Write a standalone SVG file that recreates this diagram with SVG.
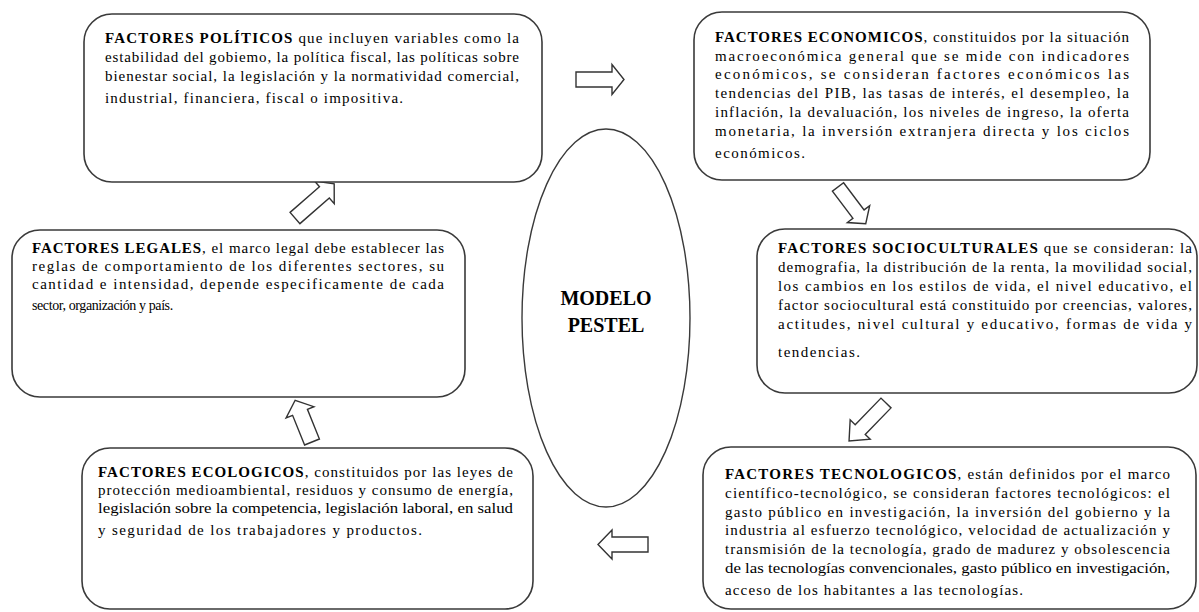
<svg xmlns="http://www.w3.org/2000/svg" width="1199" height="612" viewBox="0 0 1199 612">
<style>
.box{fill:#fff;stroke:#3a3a3a;stroke-width:1.6}
.ell{fill:#fff;stroke:#3a3a3a;stroke-width:1.4}
.t{font-family:"Liberation Serif","Times New Roman",serif;font-size:15px;fill:#000}
.b{font-weight:bold}
.title{font-family:"Liberation Serif","Times New Roman",serif;font-size:20px;font-weight:bold;fill:#000;text-anchor:middle}
.arr{fill:#fff;stroke:#333;stroke-width:1.4;stroke-linejoin:miter}
</style>
<rect width="1199" height="612" fill="#fff"/>

<g id="connectors">
<polygon class="arr" transform="translate(576,79.5)" points="0,-7.5 36,-7.5 36,-15 48,0 36,15 36,7.5 0,7.5"/>
<polygon class="arr" transform="translate(838,187) rotate(52.9)" points="0,-7 34,-7 34,-14 46,0 34,14 34,7 0,7"/>
<polygon class="arr" transform="translate(886,403) rotate(134.2)" points="0,-7 37,-7 37,-14 53,0 37,14 37,7 0,7"/>
<polygon class="arr" transform="translate(648,544.5) rotate(180)" points="0,-7.5 36,-7.5 36,-14.5 50,0 36,14.5 36,7.5 0,7.5"/>
<polygon class="arr" transform="translate(312,442) rotate(-112)" points="0,-8 32,-8 32,-15 45,0 32,15 32,8 0,8"/>
<polygon class="arr" transform="translate(295,218) rotate(-41.1)" points="0,-7.5 39,-7.5 39,-15 52,0 39,15 39,7.5 0,7.5"/>
</g>

<g id="politicos">
<rect class="box" x="84" y="14" width="458" height="168" rx="28"/>
<text class="t" x="105" y="43" textLength="414"><tspan class="b">FACTORES POLÍTICOS</tspan> que incluyen variables como la</text>
<text class="t" x="105" y="62" textLength="414">estabilidad del gobiemo, la política fiscal, las políticas sobre</text>
<text class="t" x="105" y="81" textLength="414">bienestar social, la legislación y la normatividad comercial,</text>
<text class="t" x="105" y="103" textLength="298">industrial, financiera, fiscal o impositiva.</text>
</g>

<g id="economicos">
<rect class="box" x="694" y="12" width="456" height="168" rx="28"/>
<text class="t" x="715" y="42" textLength="414"><tspan class="b">FACTORES ECONOMICOS</tspan>, constituidos por la situación</text>
<text class="t" x="715" y="61" textLength="414">macroeconómica general que se mide con indicadores</text>
<text class="t" x="715" y="79" textLength="414">económicos, se consideran factores económicos las</text>
<text class="t" x="715" y="98" textLength="414">tendencias del PIB, las tasas de interés, el desempleo, la</text>
<text class="t" x="715" y="117" textLength="414">inflación, la devaluación, los niveles de ingreso, la oferta</text>
<text class="t" x="715" y="136" textLength="414">monetaria, la inversión extranjera directa y los ciclos</text>
<text class="t" x="715" y="158" textLength="90">económicos.</text>
</g>

<g id="socioculturales">
<rect class="box" x="757" y="229" width="440" height="164" rx="28"/>
<text class="t" x="778" y="253" textLength="414"><tspan class="b">FACTORES SOCIOCULTURALES</tspan> que se consideran: la</text>
<text class="t" x="778" y="272" textLength="414">demografia, la distribución de la renta, la movilidad social,</text>
<text class="t" x="778" y="291" textLength="414">los cambios en los estilos de vida, el nivel educativo, el</text>
<text class="t" x="778" y="310" textLength="414">factor sociocultural está constituido por creencias, valores,</text>
<text class="t" x="778" y="329" textLength="414">actitudes, nivel cultural y educativo, formas de vida y</text>
<text class="t" x="778" y="357" textLength="82">tendencias.</text>
</g>

<g id="tecnologicos">
<rect class="box" x="703" y="447" width="493" height="162" rx="28"/>
<text class="t" x="725" y="479" textLength="445"><tspan class="b">FACTORES TECNOLOGICOS</tspan>, están definidos por el marco</text>
<text class="t" x="725" y="498" textLength="445">científico-tecnológico, se consideran factores tecnológicos: el</text>
<text class="t" x="725" y="517" textLength="445">gasto público en investigación, la inversión del gobierno y la</text>
<text class="t" x="725" y="535" textLength="445">industria al esfuerzo tecnológico,  velocidad de actualización y</text>
<text class="t" x="725" y="554" textLength="445">transmisión de la tecnología, grado de madurez y obsolescencia</text>
<text class="t" x="725" y="573" textLength="445" lengthAdjust="spacingAndGlyphs">de las tecnologías convencionales, gasto público en investigación,</text>
<text class="t" x="725" y="595" textLength="298">acceso de los habitantes a las tecnologías.</text>
</g>

<g id="legales">
<rect class="box" x="12" y="230" width="453" height="167" rx="28"/>
<text class="t" x="32" y="253" textLength="412"><tspan class="b">FACTORES LEGALES</tspan>, el marco legal debe establecer las</text>
<text class="t" x="32" y="271" textLength="412">reglas de comportamiento de los diferentes sectores, su</text>
<text class="t" x="32" y="289" textLength="412">cantidad e intensidad, depende especificamente de cada</text>
<text class="t" x="32" y="310" style="font-size:14px;letter-spacing:-0.4px">sector, organización y país.</text>
</g>

<g id="ecologicos">
<rect class="box" x="82" y="448" width="451" height="161" rx="28"/>
<text class="t" x="98" y="477" textLength="415"><tspan class="b">FACTORES ECOLOGICOS</tspan>, constituidos por las leyes de</text>
<text class="t" x="98" y="495" textLength="415">protección medioambiental, residuos y consumo de energía,</text>
<text class="t" x="98" y="513" textLength="415" lengthAdjust="spacingAndGlyphs">legislación sobre la competencia, legislación laboral, en salud</text>
<text class="t" x="98" y="535" textLength="324">y seguridad de los trabajadores y productos.</text>
</g>

<g id="modelo">
<ellipse class="ell" cx="606" cy="318" rx="84" ry="189"/>
<text class="title" x="606" y="305">MODELO</text>
<text class="title" x="606" y="332">PESTEL</text>
</g>
</svg>
